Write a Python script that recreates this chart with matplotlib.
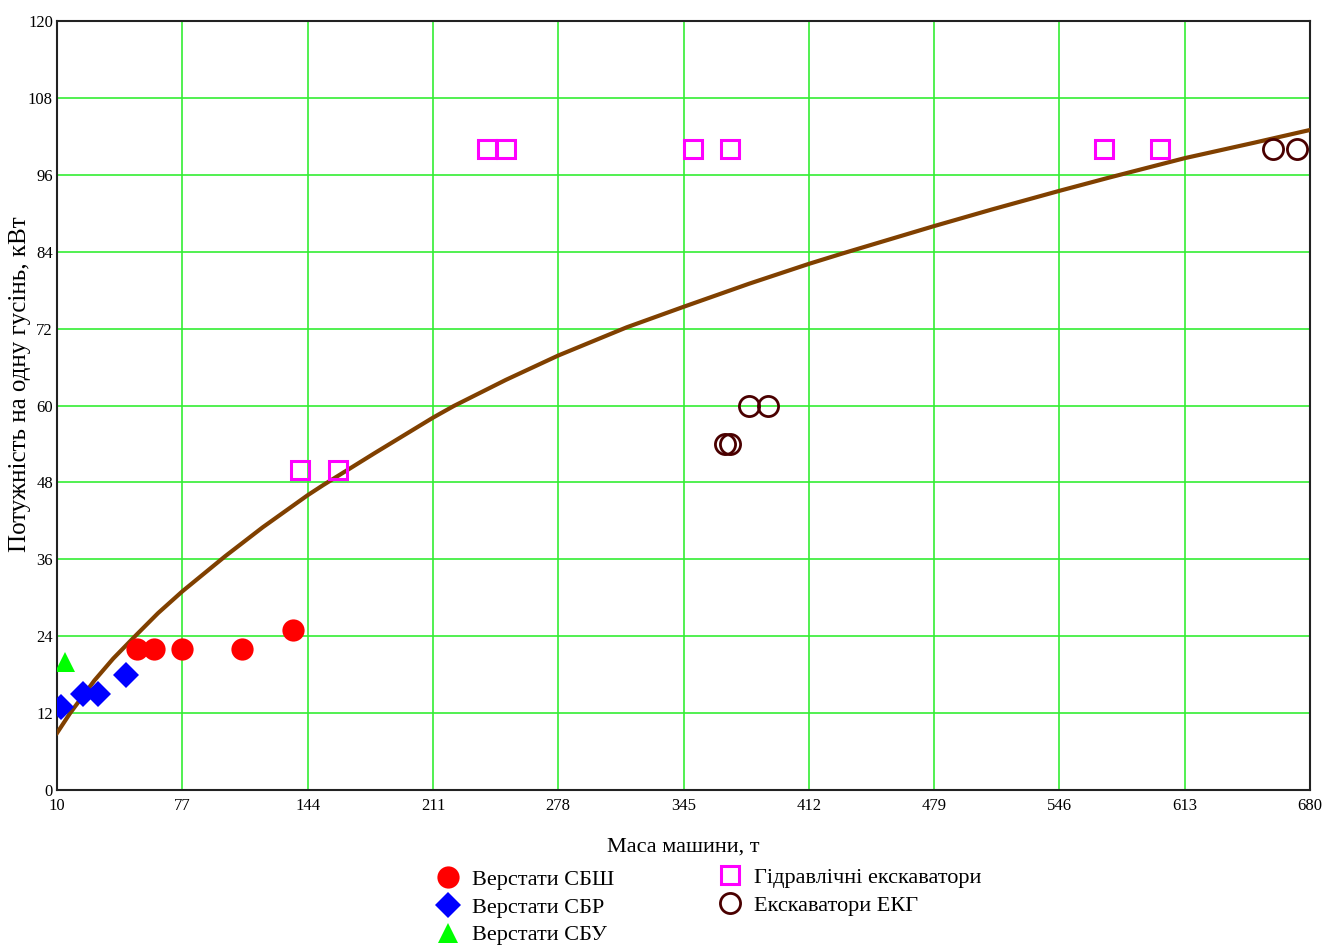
import matplotlib
matplotlib.use("Agg")
import matplotlib.pyplot as plt

plt.rcParams['font.family'] = ['Liberation Serif', 'DejaVu Serif']

# Drill rigs
sbsh_mass = [53, 62, 77, 109, 136]
sbsh_power = [22, 22, 22, 22, 25]
sbr_mass = [12, 24, 32, 47]
sbr_power = [13, 15, 15, 18]
sbu_mass = [14]
sbu_power = [20]

# Excavators
hydr_mass = [140, 160, 240, 250, 350, 370, 570, 600]
hydr_power = [50, 50, 100, 100, 100, 100, 100, 100]
ekg_mass = [367, 370, 380, 390, 660, 673]
ekg_power = [54, 54, 60, 60, 100, 100]

# Approximating curve
fit_mass = [10, 17, 30, 40, 51.7, 64, 77, 100, 120, 144, 152.4, 180, 211, 222, 250,
            278, 314.6, 345, 380, 412, 429.7, 479, 510, 546, 573, 613, 650, 680]
fit_power = [8.9, 12, 17.1, 20.5, 24, 27.6, 31.0, 36.5, 41.0, 46.0, 47.6, 52.6, 58.1,
             59.9, 64.0, 67.8, 72.2, 75.4, 79.0, 82.1, 83.7, 88.0, 90.6, 93.5, 95.6,
             98.6, 101.0, 103.0]

x_ticks = [10, 77, 144, 211, 278, 345, 412, 479, 546, 613, 680]
y_ticks = [0, 12, 24, 36, 48, 60, 72, 84, 96, 108, 120]

fig = plt.figure(figsize=(13.27, 9.47), dpi=100)
ax = fig.add_axes([0.043, 0.1658, 0.9442, 0.812])

ax.plot(fit_mass, fit_power, color='#804000', linewidth=3.0, zorder=3)

l1, = ax.plot(sbsh_mass, sbsh_power, 'o', color='#ff0000', ms=16, mew=0,
              label='Верстати СБШ', zorder=4)
l2, = ax.plot(sbr_mass, sbr_power, 'D', color='#0000ff', ms=13, mew=0,
              label='Верстати СБР', zorder=4)
l3, = ax.plot(sbu_mass, sbu_power, '^', color='#00ff00', ms=15, mew=0,
              label='Верстати СБУ', zorder=4)
l4, = ax.plot(hydr_mass, hydr_power, 's', mfc='none', mec='#ff00ff', ms=13.5, mew=2.2,
              label='Гідравлічні екскаватори', zorder=4)
l5, = ax.plot(ekg_mass, ekg_power, 'o', mfc='none', mec='#4a0000', ms=14.5, mew=2,
              label='Екскаватори ЕКГ', zorder=4)

ax.set_xlim(10, 680)
ax.set_ylim(0, 120)
ax.set_xticks(x_ticks)
ax.set_yticks(y_ticks)
ax.grid(True, color='#33ee33', linewidth=1.2)
ax.set_axisbelow(True)
ax.tick_params(length=0, labelsize=12)
ax.tick_params(axis='x', pad=6)
ax.tick_params(axis='y', pad=3)
for s in ax.spines.values():
    s.set_linewidth(1.5)
    s.set_color('#222222')

ax.set_xlabel('Маса машини, т', fontsize=16, labelpad=17)
ax.set_ylabel('Потужність на одну гусінь, кВт', fontsize=18)
ax.yaxis.set_label_coords(-0.021, 0.528)

leg_kw = dict(frameon=False, fontsize=16, handletextpad=0.45, labelspacing=0.33,
              borderpad=0, handlelength=1.2, numpoints=1)
leg1 = fig.legend(handles=[l1, l2, l3], loc='upper left',
                  bbox_to_anchor=(424 / 1327, 1 - 858 / 947), **leg_kw)
leg2 = fig.legend(handles=[l4, l5], loc='upper left',
                  bbox_to_anchor=(706 / 1327, 1 - 856 / 947), **leg_kw)

fig.savefig('out.png', dpi=100)
